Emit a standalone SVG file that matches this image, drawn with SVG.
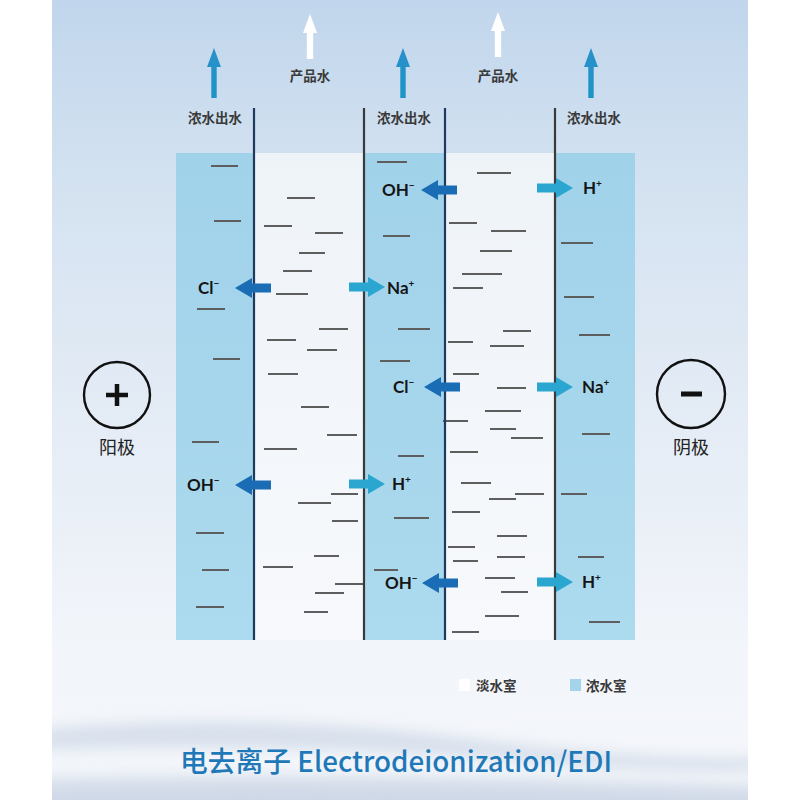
<svg xmlns="http://www.w3.org/2000/svg" xmlns:xlink="http://www.w3.org/1999/xlink" width="800" height="800" viewBox="0 0 800 800">
<defs>
<linearGradient id="bg" x1="0" y1="0" x2="0" y2="1">
<stop offset="0" stop-color="#c1d6ec"/>
<stop offset="0.25" stop-color="#d5e3f1"/>
<stop offset="0.5" stop-color="#e3ebf5"/>
<stop offset="0.8" stop-color="#f2f5fa"/>
<stop offset="1" stop-color="#f5f7fb"/>
</linearGradient>
<linearGradient id="conc" x1="0" y1="0" x2="0" y2="1">
<stop offset="0" stop-color="#a0d2ea"/>
<stop offset="1" stop-color="#acdaee"/>
</linearGradient>
<linearGradient id="dil" x1="0" y1="0" x2="0" y2="1">
<stop offset="0" stop-color="#eef3f8"/>
<stop offset="1" stop-color="#f7f9fc"/>
</linearGradient>
<linearGradient id="upA" x1="0" y1="0" x2="0" y2="1">
<stop offset="0" stop-color="#2b8fcb"/>
<stop offset="1" stop-color="#1b95c6"/>
</linearGradient>
<clipPath id="panel"><rect x="52" y="0" width="696" height="800"/></clipPath>
<filter id="blur" x="-10%" y="-50%" width="120%" height="200%"><feGaussianBlur stdDeviation="7"/></filter>
<path id="aL" d="M0 0 l17 -10 v5.5 h19 v9 h-19 v5.5 z" fill="#1a6db4"/>
<path id="aR" d="M0 0 l-17 -10 v5.5 h-19 v9 h19 v5.5 z" fill="#2aa6d0"/>
<path id="up" d="M0 0 l7 19 h-4.3 v31 h-5.4 v-31 h-4.3 z"/>
<path id="upW" d="M0 0 l7 19 h-3.8 v26 h-6.4 v-26 h-3.8 z"/>
</defs>
<style>
.mem1{stroke:#1e3a5c;stroke-width:2.2}
.mem2{stroke:#3a3a3a;stroke-width:2.2}
.dash{stroke:#5e5e5e;stroke-width:2;fill:none}
.cn{font-family:"Noto Sans CJK SC","Noto Sans",sans-serif;font-weight:bold;font-size:13.5px;fill:#3a3a3a}
.ion{font-family:Lato,"Open Sans",sans-serif;font-weight:bold;font-size:17px;fill:#151515}
.sup{font-size:10px}
.el{font-family:"Noto Sans CJK SC",sans-serif;font-size:18px;fill:#222}
</style>

<rect x="0" y="0" width="800" height="800" fill="#ffffff"/>
<rect x="52" y="0" width="696" height="800" fill="url(#bg)"/>

<g id="wave" clip-path="url(#panel)">
<path d="M30 730 C 180 716, 330 720, 480 740 C 580 752, 680 760, 770 758 L770 820 L30 820 Z" fill="#d8e0ec" filter="url(#blur)"/>
<path d="M30 750 C 220 742, 420 752, 560 764 C 640 770, 700 772, 770 770 L770 786 C 600 780, 350 772, 30 778 Z" fill="#f3f6fa" filter="url(#blur)"/>
<path d="M30 792 C 250 784, 500 788, 770 798 L770 820 L30 820 Z" fill="#cfd8e7" filter="url(#blur)"/>
</g>

<g id="chamber-conc-1"><rect x="176" y="153" width="78" height="487" fill="url(#conc)"/>
<path class="dash" d="M211 166h27M214 221h27M197 309h28M213 359h27M192 442h27M196 533h28M202 570h27M196 607h28"/></g>
<g id="chamber-dil-1"><rect x="254" y="153" width="110" height="487" fill="url(#dil)"/>
<path class="dash" d="M287 198h28M264 226h28M315 233h28M299 253h26M283 271h29M276 294h32M319 329h29M267 340h29M307 350h30M268 374h30M301 407h28M327 435h30M264 449h33M331 494h27M298 503h33M332 521h26M314 556h25M263 567h30M335 584h28M315 593h29M304 612h24"/></g>
<g id="chamber-conc-2"><rect x="364" y="153" width="81" height="487" fill="url(#conc)"/>
<path class="dash" d="M377 162h30M383 236h27M398 329h32M380 361h30M398 456h26M394 518h35M374 570h24"/></g>
<g id="chamber-dil-2"><rect x="445" y="153" width="110" height="487" fill="url(#dil)"/>
<path class="dash" d="M477 173h34M449 223h28M491 231h35M480 251h32M462 274h40M453 288h30M503 331h28M448 342h25M490 346h34M453 374h26M497 388h29M485 411h36M443 421h25M490 429h26M511 438h32M450 452h28M461 483h30M515 494h29M489 499h27M452 512h28M497 536h30M448 547h27M497 557h28M453 561h25M485 578h30M501 592h27M485 616h34M452 632h27"/></g>
<g id="chamber-conc-3"><rect x="555" y="153" width="80" height="487" fill="url(#conc)"/>
<path class="dash" d="M561 243h32M564 297h30M579 335h31M582 434h28M561 494h26M578 557h26M589 622h31"/></g>

<g id="membranes">
<line class="mem1" x1="254" y1="108" x2="254" y2="640"/>
<line class="mem2" x1="364" y1="108" x2="364" y2="640"/>
<line class="mem1" x1="445" y1="108" x2="445" y2="640"/>
<line class="mem2" x1="555" y1="108" x2="555" y2="640"/>
</g>

<g id="outlets">
<use href="#up" x="214" y="48" fill="url(#upA)"/>
<use href="#up" x="403" y="48" fill="url(#upA)"/>
<use href="#up" x="591" y="48" fill="url(#upA)"/>
<use href="#upW" x="310" y="14" fill="#ffffff"/>
<use href="#upW" x="498" y="12" fill="#ffffff"/>
<text class="cn" x="310" y="81" text-anchor="middle">产品水</text>
<text class="cn" x="498" y="81" text-anchor="middle">产品水</text>
<text class="cn" x="215" y="123" text-anchor="middle">浓水出水</text>
<text class="cn" x="404" y="123" text-anchor="middle">浓水出水</text>
<text class="cn" x="594" y="123" text-anchor="middle">浓水出水</text>
</g>

<g id="connectors">
<use href="#aL" x="235" y="288"/>
<use href="#aL" x="421" y="190"/>
<use href="#aL" x="424" y="387"/>
<use href="#aL" x="235" y="485"/>
<use href="#aL" x="422" y="583"/>
<use href="#aR" x="385" y="287"/>
<use href="#aR" x="573" y="188"/>
<use href="#aR" x="573" y="387"/>
<use href="#aR" x="385" y="484"/>
<use href="#aR" x="573" y="582"/>
</g>

<g id="ions">
<text class="ion" x="198" y="294">Cl<tspan class="sup" dy="-7">−</tspan></text>
<text class="ion" x="387" y="294">Na<tspan class="sup" dy="-7">+</tspan></text>
<text class="ion" x="382" y="196">OH<tspan class="sup" dy="-7">−</tspan></text>
<text class="ion" x="583" y="194">H<tspan class="sup" dy="-7">+</tspan></text>
<text class="ion" x="393" y="393">Cl<tspan class="sup" dy="-7">−</tspan></text>
<text class="ion" x="582" y="393">Na<tspan class="sup" dy="-7">+</tspan></text>
<text class="ion" x="187" y="491">OH<tspan class="sup" dy="-7">−</tspan></text>
<text class="ion" x="392" y="490">H<tspan class="sup" dy="-7">+</tspan></text>
<text class="ion" x="385" y="589">OH<tspan class="sup" dy="-7">−</tspan></text>
<text class="ion" x="582" y="588">H<tspan class="sup" dy="-7">+</tspan></text>
</g>

<g id="anode">
<circle cx="117" cy="395" r="33" fill="none" stroke="#111" stroke-width="2.4"/>
<path d="M106 395h22M117 384v22" stroke="#111" stroke-width="4.5"/>
<text class="el" x="117" y="454" text-anchor="middle">阳极</text>
</g>
<g id="cathode">
<circle cx="691" cy="394" r="34" fill="none" stroke="#111" stroke-width="2.4"/>
<path d="M681 394h21" stroke="#111" stroke-width="5"/>
<text class="el" x="691" y="454" text-anchor="middle">阴极</text>
</g>

<g id="legend">
<rect x="459" y="679" width="11" height="12" fill="#ffffff"/>
<text class="cn" x="476" y="691">淡水室</text>
<rect x="570" y="679" width="11" height="12" fill="#a3d4ea"/>
<text class="cn" x="586" y="691">浓水室</text>
</g>

<g id="title">
<text x="180" y="772" font-family="'Noto Sans CJK SC','Noto Sans',sans-serif" font-size="28" font-weight="500" fill="#1f78b7" textLength="432" lengthAdjust="spacingAndGlyphs">电去离子 Electrodeionization/EDI</text>
</g>
</svg>
